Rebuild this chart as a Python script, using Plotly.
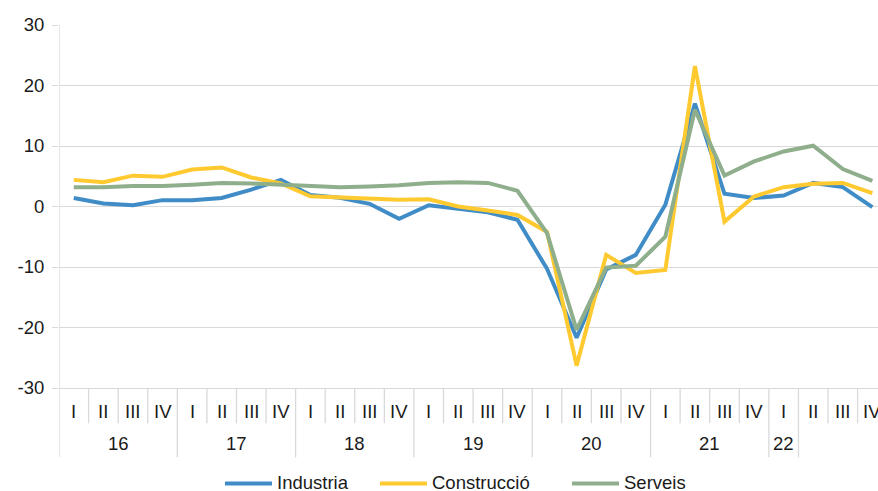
import plotly.graph_objects as go

quarters = ["I", "II", "III", "IV"] * 7
year_labels = ["16", "17", "18", "19", "20", "21", "22"]
year_label_pos = [1.5, 5.5, 9.5, 13.5, 17.5, 21.5, 24.0]
year_separators = [-0.5, 3.5, 7.5, 11.5, 15.5, 19.5, 23.5, 24.5]
y_ticks = [-30, -20, -10, 0, 10, 20, 30]
y_tick_labels = ["-30", "-20", "-10", "0", "10", "20", "30"]

industria = [1.4, 0.5, 0.2, 1.05, 1.05, 1.4, 2.8, 4.4, 1.9, 1.45, 0.45, -2.05, 0.2, -0.4,
             -0.95, -2.2, -10.3, -21.7, -10.4, -8.0, 0.3, 17.0, 2.1, 1.4, 1.8, 3.9, 3.2, -0.1]
construccio = [4.4, 4.0, 5.1, 4.9, 6.1, 6.45, 4.8, 3.8, 1.7, 1.5, 1.3, 1.1, 1.2, 0.0,
               -0.65, -1.4, -4.2, -26.3, -8.0, -11.0, -10.5, 23.2, -2.5, 1.65, 3.2, 3.75, 3.9, 2.2]
serveis = [3.2, 3.2, 3.4, 3.4, 3.6, 3.9, 3.8, 3.6, 3.4, 3.2, 3.3, 3.5, 3.9, 4.0, 3.9, 2.6,
           -4.4, -20.4, -10.1, -9.8, -5.0, 16.0, 5.1, 7.45, 9.1, 10.05, 6.2, 4.25]

series = [("Industria", industria, "#3F8CC7"),
          ("Construcció", construccio, "#FFC930"),
          ("Serveis", serveis, "#8FAE8C")]

FONT = "Liberation Sans, Arial, sans-serif"
FS = 18.5
TXT = "#1a1a1a"
GRID = "#D9D9D9"

W, H = 878, 491
L, R = 59, 0
top, bottom_axis = 25.0, 387.7
ph = bottom_axis - top
pw = W - L - R

def py(ypx):
    return (bottom_axis - ypx) / ph

def px(xpx):
    return (xpx - L) / pw

x = list(range(len(quarters)))
fig = go.Figure()
for name, vals, col in series:
    fig.add_trace(go.Scatter(x=x, y=vals, mode="lines", name=name,
                             line=dict(color=col, width=4), cliponaxis=False,
                             showlegend=False))

shapes = []
shapes.append(dict(type="line", xref="x", yref="paper", x0=-0.5, x1=-0.5, y0=0, y1=1,
                   line=dict(color=GRID, width=1.3)))
for i in range(len(quarters) + 1):
    xv = i - 0.5
    y1 = py(457) if xv in year_separators else py(423)
    shapes.append(dict(type="line", xref="x", yref="paper", x0=xv, x1=xv, y0=0, y1=y1,
                       line=dict(color=GRID, width=1.3)))

annotations = []
for i, q in enumerate(quarters):
    annotations.append(dict(x=i, y=py(411), xref="x", yref="paper", text=q, showarrow=False,
                            xanchor="center", yanchor="middle",
                            font=dict(family=FONT, size=FS, color=TXT)))
for lab, pos in zip(year_labels, year_label_pos):
    annotations.append(dict(x=pos, y=py(443), xref="x", yref="paper", text=lab, showarrow=False,
                            xanchor="center", yanchor="middle",
                            font=dict(family=FONT, size=FS, color=TXT)))

# manual legend
legend_line_x = [225, 380, 572]
for (name, vals, col), lx in zip(series, legend_line_x):
    shapes.append(dict(type="line", xref="paper", yref="paper",
                       x0=px(lx), x1=px(lx + 47), y0=py(483), y1=py(483),
                       line=dict(color=col, width=4)))
    annotations.append(dict(x=px(lx + 50), y=py(482), xref="paper", yref="paper", text=name,
                            showarrow=False, xanchor="left", yanchor="middle",
                            font=dict(family=FONT, size=FS, color=TXT)))

fig.update_layout(
    width=W, height=H,
    margin=dict(l=L, r=R, t=top, b=H - bottom_axis, autoexpand=False),
    plot_bgcolor="white", paper_bgcolor="white",
    font=dict(family=FONT, size=FS, color=TXT),
    showlegend=False,
    xaxis=dict(range=[-0.5, 27.19], showticklabels=False, showgrid=False, zeroline=False,
               showline=True, linecolor=GRID, linewidth=1.3, ticks="", fixedrange=True,
               automargin=False),
    yaxis=dict(range=[-30, 30], tickmode="array", tickvals=y_ticks, ticktext=y_tick_labels,
               showgrid=True, gridcolor=GRID, gridwidth=1.3,
               zeroline=False, showline=False, ticks="outside", ticklen=6, tickcolor=GRID,
               tickwidth=1.3, tickfont=dict(family=FONT, size=FS, color=TXT),
               ticklabelstandoff=4, automargin=False),
    shapes=shapes, annotations=annotations,
)

fig.write_html("out.html", config={"displayModeBar": False},
               post_script="document.body.style.margin='0';document.body.style.overflow='hidden';")
